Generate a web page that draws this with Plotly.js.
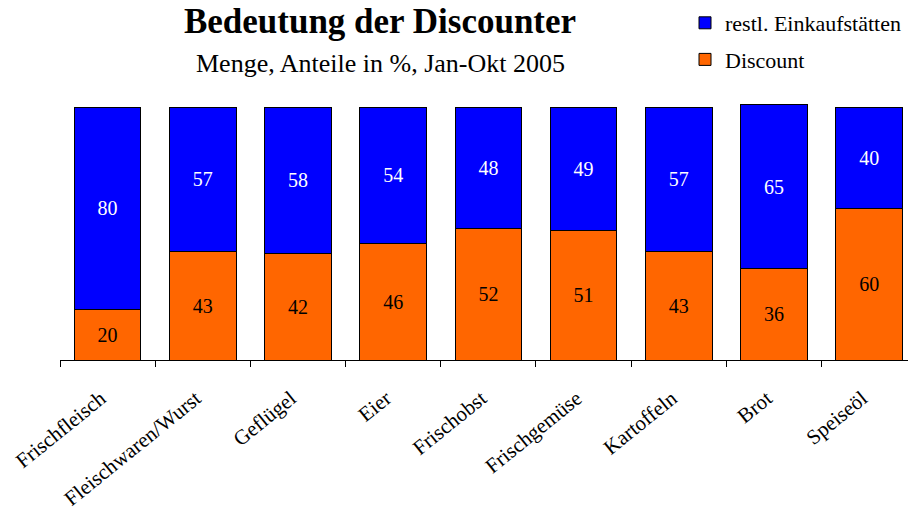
<!DOCTYPE html>
<html>
<head>
<meta charset="utf-8">
<script src="https://cdn.plot.ly/plotly-3.0.1.min.js"></script>
<style>html,body{margin:0;padding:0;background:#fff;overflow:hidden}#chart{width:908px;height:513px}</style>
</head>
<body>
<div id="chart"></div>
<script>
const categories = ["Frischfleisch", "Fleischwaren/Wurst", "Geflügel", "Eier", "Frischobst", "Frischgemüse", "Kartoffeln", "Brot", "Speiseöl"];
const discount = [20, 43, 42, 46, 52, 51, 43, 36, 60];
const restl = [80, 57, 58, 54, 48, 49, 57, 65, 40];
const seriesNames = ["Discount", "restl. Einkaufstätten"];

const serif = "'Liberation Serif', 'Times New Roman', serif";

const traces = [
  {
    type: "bar", name: seriesNames[0], x: categories, y: discount,
    text: discount.map(String), textposition: "inside", insidetextanchor: "middle",
    textfont: {family: serif, size: 20, color: "#000"},
    marker: {color: "#FF6600", line: {color: "#000", width: 1}},
    legendgroup: "b", legendrank: 2, hoverinfo: "skip"
  },
  {
    type: "bar", name: seriesNames[1], x: categories, y: restl,
    text: restl.map(String), textposition: "inside", insidetextanchor: "middle",
    textfont: {family: serif, size: 20, color: "#fff"},
    marker: {color: "#0000FF", line: {color: "#000", width: 1}},
    legendgroup: "a", legendrank: 1, hoverinfo: "skip"
  }
];

const plotW = 908 - 60, plotH = 513 - 100 - 153;

const layout = {
  width: 908, height: 513,
  paper_bgcolor: "#fff", plot_bgcolor: "#fff",
  margin: {l: 60, r: 0, t: 100, b: 153, pad: 0},
  barmode: "stack", bargap: 0.3,
  font: {family: serif, color: "#000"},
  title: {text: "<b>Bedeutung der Discounter</b>", font: {family: serif, size: 35, color: "#000"},
          x: (380 - 60) / plotW, xanchor: "center", xref: "paper", y: 1 - 21/513, yanchor: "middle", yref: "container"},
  annotations: [{text: "Menge, Anteile in %, Jan-Okt 2005", xref: "paper", yref: "paper",
    x: (380 - 60) / plotW, y: (513 - 153 - 63) / plotH, xanchor: "center", yanchor: "middle",
    showarrow: false, font: {family: serif, size: 26, color: "#000"}}],
  xaxis: {
    type: "category", range: [-0.5, 8.408], fixedrange: true,
    showline: true, linecolor: "#000", linewidth: 1,
    ticks: "outside", tickson: "boundaries", ticklen: 6, tickcolor: "#000", tickwidth: 1,
    tickangle: -39, tickfont: {family: serif, size: 21, color: "#000"},
    ticklabelstandoff: 17, ticklabelshift: -7, showgrid: false, zeroline: false
  },
  yaxis: {range: [0, 102.77], visible: false, showgrid: false, zeroline: false, fixedrange: true},
  showlegend: true,
  legend: {traceorder: "grouped", tracegroupgap: 5, x: (685 - 60) / plotW, xanchor: "left",
           y: 1 - 2/513, yref: "container", yanchor: "top",
           font: {family: serif, size: 22, color: "#000"}, bgcolor: "rgba(0,0,0,0)", itemwidth: 30}
};

Plotly.newPlot("chart", traces, layout, {displayModeBar: false, staticPlot: true});
</script>
</body>
</html>
